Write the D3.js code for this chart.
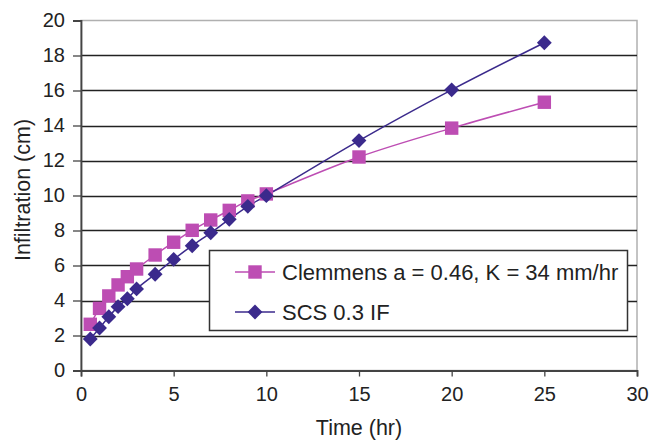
<!DOCTYPE html>
<html><head><meta charset="utf-8">
<script src="https://cdn.jsdelivr.net/npm/d3@7"></script>
<style>body{margin:0;background:#fff}svg{display:block;font-family:"Liberation Sans",Arial,sans-serif}</style>
</head><body><svg id="c" width="650" height="442"></svg>
<script>
const times = [0.5,1,1.5,2,2.5,3,4,5,6,7,8,9,10,15,20,25];
const clemmens = [2.64,3.55,4.26,4.89,5.36,5.8,6.6,7.33,8.01,8.6,9.15,9.69,10.09,12.2,13.85,15.33];
const scs = [1.8,2.43,3.07,3.65,4.1,4.66,5.5,6.35,7.13,7.87,8.64,9.38,9.99,13.14,16.04,18.73];
const seriesNames = ["Clemmens a = 0.46, K = 34 mm/hr","SCS 0.3 IF"];
const xTicks = [0,5,10,15,20,25,30];
const yTicks = [0,2,4,6,8,10,12,14,16,18,20];

const svg = d3.select("#c");
const L=81,R=637,T=20.5,B=370.5;
const x = d3.scaleLinear().domain([0,30]).range([L,R]);
const y = d3.scaleLinear().domain([0,20]).range([B,T]);
const pink="#bd4db3", blue="#3b2a8c";

svg.append("rect").attr("x",L).attr("y",T).attr("width",R-L).attr("height",B-T)
  .attr("fill","none").attr("stroke","#b0b0b0").attr("stroke-width",1.5);
svg.append("g").selectAll("line").data(yTicks.filter(d=>d>0&&d<20)).join("line")
  .attr("x1",L).attr("x2",R).attr("y1",d=>Math.round(y(d))+0.5).attr("y2",d=>Math.round(y(d))+0.5)
  .attr("stroke","#222").attr("stroke-width",1.3);

const xa = svg.append("g").attr("transform",`translate(0,${B})`)
  .call(d3.axisBottom(x).tickValues(xTicks).tickSize(6).tickPadding(10));
const ya = svg.append("g").attr("transform",`translate(${L},0)`)
  .call(d3.axisLeft(y).tickValues(yTicks).tickSize(8).tickPadding(8));
[xa,ya].forEach(a=>{
  a.select(".domain").attr("stroke","#444").attr("stroke-width",1.8);
  a.selectAll(".tick line").attr("stroke","#444").attr("stroke-width",1.3);
  a.selectAll("text").attr("font-size",20).attr("fill","#222").attr("font-family","Liberation Sans, Arial, sans-serif");
});

svg.append("text").attr("x",(L+R)/2).attr("y",435).attr("text-anchor","middle")
  .attr("font-size",21.5).attr("fill","#222").text("Time (hr)");
svg.append("text").attr("transform",`translate(29.5,190) rotate(-90)`).attr("text-anchor","middle")
  .attr("font-size",21.5).attr("fill","#222").text("Infiltration (cm)");

const line = d3.line().x(d=>x(d[0])).y(d=>y(d[1])).curve(d3.curveCatmullRom);
const s1 = times.map((t,i)=>[t,clemmens[i]]);
const s2 = times.map((t,i)=>[t,scs[i]]);
svg.append("path").attr("d",line(s1)).attr("fill","none").attr("stroke",pink).attr("stroke-width",1.5);
svg.append("path").attr("d",line(s2)).attr("fill","none").attr("stroke",blue).attr("stroke-width",1.5);

const sq = d3.symbol().type(d3.symbolSquare).size(180);
const dm = d3.symbol().type(d3.symbolSquare).size(110);
svg.append("g").selectAll("path").data(s1).join("path").attr("d",sq)
  .attr("transform",d=>`translate(${x(d[0])},${y(d[1])})`).attr("fill",pink);
svg.append("g").selectAll("path").data(s2).join("path").attr("d",dm)
  .attr("transform",d=>`translate(${x(d[0])},${y(d[1])}) rotate(45)`).attr("fill",blue);

const lg = svg.append("g");
lg.append("rect").attr("x",209.5).attr("y",250.5).attr("width",418).attr("height",80)
  .attr("fill","#fff").attr("stroke","#333").attr("stroke-width",1.5);
const ly=[272,312];
[[pink,sq,0],[blue,dm,45]].forEach(([c,sym,rot],i)=>{
  lg.append("line").attr("x1",235).attr("x2",275).attr("y1",ly[i]).attr("y2",ly[i]).attr("stroke",c).attr("stroke-width",1.5);
  lg.append("path").attr("d",sym).attr("transform",`translate(255,${ly[i]}) rotate(${rot})`).attr("fill",c);
  lg.append("text").attr("x",282).attr("y",ly[i]+8).attr("font-size",22).attr("fill","#222").text(seriesNames[i]);
});
</script></body></html>
